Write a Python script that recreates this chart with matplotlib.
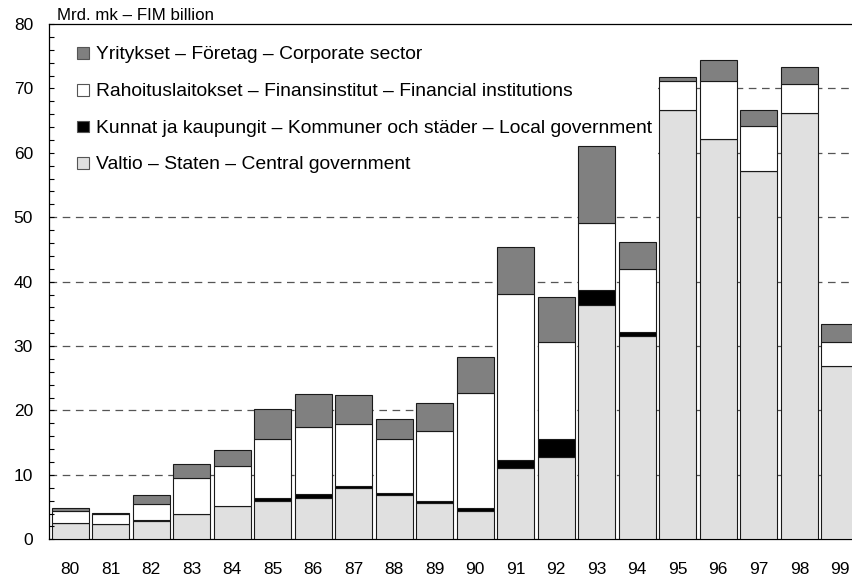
import numpy as np
import matplotlib
matplotlib.use("Agg")
import matplotlib.pyplot as plt
from matplotlib.patches import Rectangle

plt.rcParams['font.family'] = ['Liberation Sans', 'DejaVu Sans']
plt.rcParams['lines.scale_dashes'] = False

years = ['80', '81', '82', '83', '84', '85', '86', '87', '88', '89',
         '90', '91', '92', '93', '94', '95', '96', '97', '98', '99']

# Mrd. mk, stacked from bottom to top
valtio = [2.5, 2.3, 2.9, 3.9, 5.1, 5.95, 6.4, 8.0, 6.8, 5.6,
          4.35, 11.0, 12.85, 36.35, 31.5, 66.6, 62.2, 57.2, 66.2, 26.9]
kunnat = [0.05, 0.05, 0.1, 0.1, 0.1, 0.45, 0.6, 0.25, 0.35, 0.4,
          0.55, 1.3, 2.75, 2.4, 0.7, 0.0, 0.0, 0.0, 0.0, 0.0]
rahoitus = [1.85, 1.55, 2.5, 5.5, 6.15, 9.1, 10.45, 9.6, 8.35, 10.85,
            17.8, 25.75, 15.0, 10.4, 9.8, 4.5, 9.0, 7.0, 4.5, 3.75]
yritykset = [0.4, 0.25, 1.35, 2.15, 2.45, 4.75, 5.05, 4.5, 3.1, 4.3,
             5.6, 7.3, 7.0, 11.85, 4.1, 0.7, 3.25, 2.4, 2.55, 2.8]

series = [valtio, kunnat, rahoitus, yritykset]
colors = ['#e0e0e0', '#000000', '#ffffff', '#808080']
labels = ['Valtio – Staten – Central government',
          'Kunnat ja kaupungit – Kommuner och städer – Local government',
          'Rahoituslaitokset – Finansinstitut – Financial institutions',
          'Yritykset – Företag – Corporate sector']

W, H = 852, 581
fig = plt.figure(figsize=(W / 100, H / 100), dpi=100)
ax = fig.add_axes([49 / W, (H - 539.3) / H, 1 - 49 / W, (539.3 - 24) / H])

x = np.arange(len(years))
bottom = np.zeros(len(years))
for vals, col in zip(series, colors):
    ax.bar(x, vals, bottom=bottom, width=0.914, color=col,
           edgecolor='#1a1a1a', linewidth=0.8, zorder=3)
    bottom += np.array(vals)

for g in range(10, 80, 10):
    ax.axhline(g, color='#555555', lw=0.9, linestyle=(0, (5.5, 4)), zorder=1)

# white area behind the legend hides the grid (bars stay on top)
ax.add_patch(Rectangle((50 / W, 1 - 176 / H), 608 / W, 146 / H,
                       transform=fig.transFigure, facecolor='white',
                       edgecolor='none', zorder=2))

ax.set_xlim(-0.52, 19.30)
ax.set_ylim(0, 80)
ax.set_yticks(range(0, 81, 10))
ax.set_yticks(range(0, 81, 2), minor=True)
ax.set_xticks(x)
ax.set_xticklabels(years)
ax.tick_params(axis='y', which='both', direction='in', length=3.6, width=0.8,
               labelsize=12.5, pad=11.5)
ax.tick_params(axis='x', length=0, labelsize=12.5, pad=16)
ax.yaxis.set_zorder(3.5)
ax.spines['right'].set_visible(False)
for s in ['left', 'top', 'bottom']:
    ax.spines[s].set_linewidth(0.9)
    ax.spines[s].set_color('black')

fig.text(57 / W, 1 - 19.5 / H, 'Mrd. mk – FIM billion', fontsize=12.2,
         ha='left', va='baseline')

rows_base = [59.3, 96, 132.7, 169.3]
for i, k in enumerate([3, 2, 1, 0]):
    yb = rows_base[i]
    fig.patches.append(Rectangle((77 / W, 1 - (yb - 0.5) / H), 12 / W, 11.5 / H,
                                 transform=fig.transFigure, facecolor=colors[k],
                                 edgecolor='#555555', linewidth=0.8, zorder=4))
    fig.text(96 / W, 1 - yb / H, labels[k], fontsize=13.9, ha='left',
             va='baseline', zorder=5)

fig.savefig('out.png', dpi=100)
